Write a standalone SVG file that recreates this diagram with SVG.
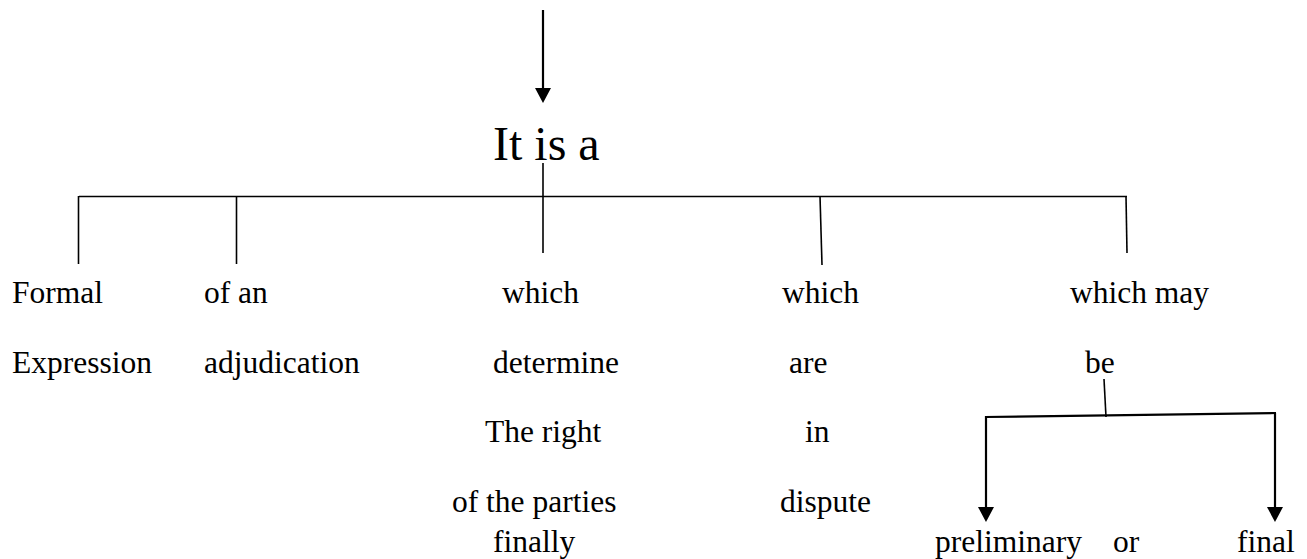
<svg xmlns="http://www.w3.org/2000/svg" width="1307" height="559" viewBox="0 0 1307 559">
<style>
text{font-family:"Liberation Serif","Times New Roman",serif;fill:#000;font-size:31.5px}
.big{font-size:48px}
.ln{stroke:#000;stroke-width:1.6;fill:none}
.ar{stroke:#000;stroke-width:2.2;fill:none}
.hd{fill:#000}
</style>
<rect width="1307" height="559" fill="#fff"/>
<g id="connectors">
<line class="ar" x1="543" y1="10" x2="543" y2="88"/>
<path class="hd" d="M535,88 L551,88 L543,103 Z"/>
<line class="ln" x1="543" y1="163" x2="543" y2="253"/>
<line class="ln" x1="79" y1="196.5" x2="1127" y2="196.5"/>
<line class="ln" x1="78.5" y1="196" x2="78.5" y2="264"/>
<line class="ln" x1="236.5" y1="196" x2="236.5" y2="264"/>
<line class="ln" x1="820" y1="196" x2="822" y2="265"/>
<line class="ln" x1="1126" y1="196" x2="1127" y2="253"/>
<line class="ln" x1="1104" y1="379" x2="1106" y2="417"/>
<line class="ar" x1="985" y1="417" x2="1276" y2="413"/>
<line class="ar" x1="986" y1="416" x2="986" y2="508"/>
<path class="hd" d="M978,507 L994,507 L986,522 Z"/>
<line class="ar" x1="1275" y1="413" x2="1275" y2="508"/>
<path class="hd" d="M1267,507 L1283,507 L1275,522 Z"/>
</g>
<g id="root"><text class="big" x="493" y="160">It is a</text></g>
<g id="n1"><text x="12" y="303">Formal</text><text x="12" y="373">Expression</text></g>
<g id="n2"><text x="204" y="303">of an</text><text x="204" y="373">adjudication</text></g>
<g id="n3">
<text x="502" y="303">which</text>
<text x="493" y="373">determine</text>
<text x="485" y="442">The right</text>
<text x="452" y="512">of the parties</text>
<text x="493" y="552">finally</text>
</g>
<g id="n4">
<text x="782" y="303">which</text>
<text x="789" y="373">are</text>
<text x="805" y="442">in</text>
<text x="780" y="512">dispute</text>
</g>
<g id="n5">
<text x="1070" y="303">which may</text>
<text x="1085" y="373">be</text>
</g>
<g id="n6"><text x="935" y="552">preliminary</text></g>
<g id="n7"><text x="1113" y="552">or</text></g>
<g id="n8"><text x="1237" y="552">final</text></g>
</svg>
